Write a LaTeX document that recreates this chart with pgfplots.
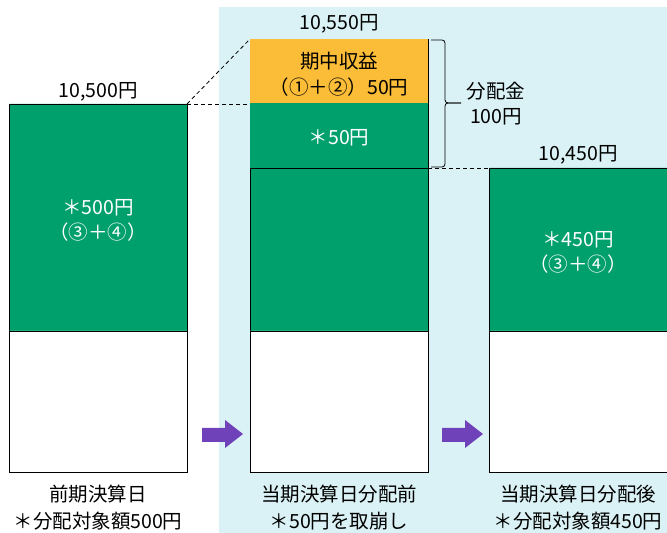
\documentclass[border=0pt]{standalone}
\usepackage{pgfplots}
\pgfplotsset{compat=1.18}
\usepackage{fontspec}
\setmainfont{Noto Sans CJK JP}
\definecolor{bgblue}{RGB}{218,242,245}
\definecolor{dgreen}{RGB}{0,160,108}
\definecolor{gold}{RGB}{251,189,56}
\definecolor{purp}{RGB}{112,66,186}
\begin{document}
\begin{tikzpicture}[font=\fontsize{19.5bp}{24bp}\selectfont]
% background panel (axis y = -61..465 -> 0..526bp)
\fill[bgblue] (219bp,0) rectangle (667bp,526bp);
\begin{axis}[
  at={(0,0)}, anchor=south west,
  hide axis, scale only axis,
  width=667bp, height=533bp,
  xmin=0, xmax=667, ymin=-61, ymax=472,
  clip=false,
  ybar stacked, bar width=178,
]
% segment heights (schematic units): base, main part, drawn-down part, income
\addplot[fill=white, draw=black, line width=0.8bp] coordinates {(98,141) (339,141) (578,141)};
\addplot[fill=dgreen, draw=black, line width=0.8bp] coordinates {(98,227) (339,163) (578,163)};
\addplot[fill=dgreen, draw=none] coordinates {(98,0) (339,65) (578,0)};
\addplot[fill=gold, draw=none] coordinates {(98,0) (339,64) (578,0)};
% outline of upper middle segments
\draw[line width=0.8bp] (axis cs:250,304) -- (axis cs:250,433) -- (axis cs:428,433) -- (axis cs:428,304);
% dashed guides
\draw[dash pattern=on 4bp off 3bp, line width=0.8bp] (axis cs:187,368) -- (axis cs:428,368);
\draw[dash pattern=on 4bp off 3bp, line width=0.8bp] (axis cs:187,368) -- (axis cs:250,433);
\draw[dash pattern=on 4bp off 3bp, line width=0.8bp] (axis cs:428,304) -- (axis cs:489,304);
% brace
\draw[line width=0.8bp, rounded corners=3bp] (axis cs:431,432) -- (axis cs:445,432) -- (axis cs:445,369) -- (axis cs:461,369);
\draw[line width=0.8bp, rounded corners=3bp] (axis cs:461,369) -- (axis cs:445,369) -- (axis cs:445,305) -- (axis cs:431,305);
% arrows
\fill[purp] (axis cs:202,44) -- (axis cs:225,44) -- (axis cs:225,52) -- (axis cs:243,38) -- (axis cs:225,24) -- (axis cs:225,30) -- (axis cs:202,30) -- cycle;
\fill[purp] (axis cs:442,44) -- (axis cs:465,44) -- (axis cs:465,52) -- (axis cs:483,38) -- (axis cs:465,24) -- (axis cs:465,30) -- (axis cs:442,30) -- cycle;
% label anchors
\coordinate (t1) at (axis cs:98,380);
\coordinate (t2) at (axis cs:339,448);
\coordinate (t3) at (axis cs:578,317);
\coordinate (o1) at (axis cs:339,411);
\coordinate (o2) at (axis cs:339,385);
\coordinate (g0) at (axis cs:339,334);
\coordinate (l1) at (axis cs:98,264);
\coordinate (l2) at (axis cs:98,240);
\coordinate (r1) at (axis cs:578,232);
\coordinate (r2) at (axis cs:578,208);
\coordinate (b1) at (axis cs:496,381);
\coordinate (b2) at (axis cs:496,355);
\coordinate (x1) at (axis cs:98,-22);
\coordinate (x2) at (axis cs:98,-49);
\coordinate (y1) at (axis cs:339,-22);
\coordinate (y2) at (axis cs:339,-49);
\coordinate (z1) at (axis cs:578,-22);
\coordinate (z2) at (axis cs:578,-49);
\end{axis}
\node at (t1) {10,500円};
\node at (t2) {10,550円};
\node at (t3) {10,450円};
\node at (o1) {期中収益};
\node at (o2) {（①＋②）50円};
\node[text=white] at (g0) {＊50円};
\node[text=white] at (l1) {＊500円};
\node[text=white] at (l2) {（③＋④）};
\node[text=white] at (r1) {＊450円};
\node[text=white] at (r2) {（③＋④）};
\node at (b1) {分配金};
\node at (b2) {100円};
\node at (x1) {前期決算日};
\node at (x2) {＊分配対象額500円};
\node at (y1) {当期決算日分配前};
\node at (y2) {＊50円を取崩し};
\node at (z1) {当期決算日分配後};
\node at (z2) {＊分配対象額450円};
\pgfresetboundingbox
\path (0,0) rectangle (667bp,533bp);
\end{tikzpicture}
\end{document}
